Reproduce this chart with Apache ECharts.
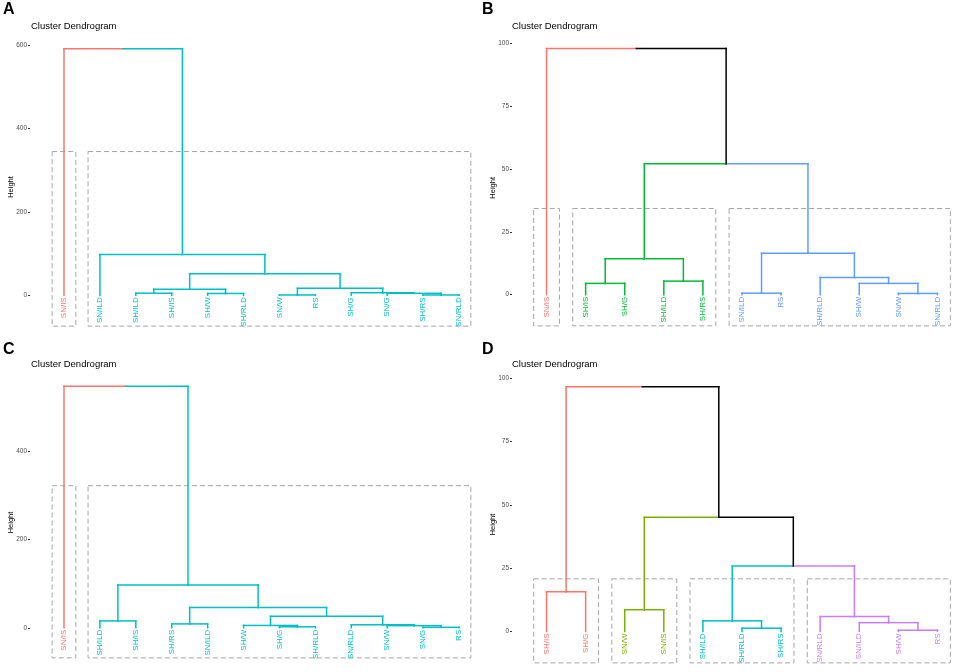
<!DOCTYPE html>
<html>
<head>
<meta charset="utf-8">
<script src="https://cdn.jsdelivr.net/npm/echarts@6/dist/echarts.min.js"></script>
<style>
html,body{margin:0;padding:0;background:#fff;}
#chart{width:957px;height:672px;}
</style>
</head>
<body>
<div id="chart"></div>
<script>
// ---------- DATA ----------
// merge rows: [left, right, height]; negative = leaf (1-based position), positive = earlier merge (1-based)
const labelsA = ['SN/IS','SN/ILD','SH/ILD','SH/IS','SH/W','SH/RLD','SN/W','RS','SH/G','SN/G','SH/RS','SN/RLD'];
const mergeA = [[-3,-4,5],[-5,-6,4.4],[1,2,14.4],[-7,-8,0.8],[-11,-12,0.8],[-10,5,4.8],[-9,6,6.2],[4,7,16.8],[3,8,52],[-2,9,98],[-1,10,592]];
const clusterA = [1,2,2,2,2,2,2,2,2,2,2,2];
const ticksA = [0,200,400,600];
const rectBottomA = -74;

const labelsB = ['SN/IS','SH/IS','SH/G','SH/ILD','SH/RS','SN/ILD','RS','SH/RLD','SH/W','SN/W','SN/RLD'];
const mergeB = [[-2,-3,4.5],[-4,-5,5.4],[1,2,14.3],[-6,-7,0.6],[-10,-11,0.5],[-9,5,4.5],[-8,6,6.8],[4,7,16.5],[3,8,52.1],[-1,9,97.9]];
const clusterB = [1,2,2,2,2,3,3,3,3,3,3];
const ticksB = [0,25,50,75,100];
const rectBottomB = -12.4;

const labelsC = ['SN/IS','SH/ILD','SH/IS','SH/RS','SN/ILD','SH/W','SH/G','SH/RLD','SN/RLD','SN/W','SN/G','RS'];
const mergeC = [[-2,-3,15.5],[-4,-5,8.8],[-7,-8,2.2],[-6,3,5.3],[-11,-12,1],[-10,5,4.8],[-9,6,6.6],[4,7,25.9],[2,8,45.7],[1,9,96.6],[-1,10,546]];
const clusterC = [1,2,2,2,2,2,2,2,2,2,2,2];
const ticksC = [0,200,400];
const rectBottomC = -68;

const labelsD = ['SH/IS','SH/G','SN/W','SN/IS','SH/ILD','SH/RLD','SH/RS','SN/RLD','SN/ILD','SH/W','RS'];
const mergeD = [[-1,-2,15.7],[-3,-4,8.6],[-6,-7,1.3],[-5,3,4.2],[-10,-11,0.5],[-9,5,3.5],[-8,6,5.9],[4,7,25.9],[2,8,45.1],[1,9,96.7]];
const clusterD = [1,1,2,2,3,3,3,4,4,4,4];
const ticksD = [0,25,50,75,100];
const rectBottomD = -12.4;

const panelLetters = ['A','B','C','D'];
const panelTitle = 'Cluster Dendrogram';
const axisName = 'Height';

// ---------- STYLE / LAYOUT ----------
const palettes = {
  2: ['#F8766D','#00BFC4'],
  3: ['#F8766D','#00BA38','#619CFF'],
  4: ['#F8766D','#7CAE00','#00BFC4','#C77CFF']
};
const FONT = '"Liberation Sans", Arial, Helvetica, sans-serif';

const panels = [
  {labels:labelsA, merge:mergeA, cl:clusterA, ticks:ticksA, rb:rectBottomA,
   leaf1:64, sp:35.91, xmin:0.053, xmax:12.5, zero:295.3, ppu:0.41667, ymin:-100, ymax:620, tx:31, ty:26, lx:3, ly:10},
  {labels:labelsB, merge:mergeB, cl:clusterB, ticks:ticksB, rb:rectBottomB,
   leaf1:546.7, sp:39.26, xmin:0.116, xmax:11.5, zero:294.7, ppu:2.514, ymin:-16, ymax:101, tx:512, ty:26, lx:482, ly:10},
  {labels:labelsC, merge:mergeC, cl:clusterC, ticks:ticksC, rb:rectBottomC,
   leaf1:64, sp:35.91, xmin:0.053, xmax:12.5, zero:633.7, ppu:0.4525, ymin:-100, ymax:576, tx:31, ty:364, lx:3, ly:350},
  {labels:labelsD, merge:mergeD, cl:clusterD, ticks:ticksD, rb:rectBottomD,
   leaf1:546.7, sp:39.26, xmin:0.116, xmax:11.5, zero:632.7, ppu:2.544, ymin:-16, ymax:100.5, tx:512, ty:364, lx:482, ly:350}
];

function buildSegments(merge, cl){
  const nodes = [];
  const info = c => c < 0 ? {x:-c, h:0, c:cl[-c-1]} : nodes[c-1];
  const segs = [];
  merge.forEach(([a,b,h]) => {
    const A = info(a), B = info(b);
    const x = (A.x + B.x) / 2;
    const c = (A.c && A.c === B.c) ? A.c : 0;
    [A,B].forEach(ch => {
      segs.push([ch.x, ch.h, ch.x, h, ch.c]);
      segs.push([ch.x, h, x, h, ch.c]);
    });
    nodes.push({x, h, c});
  });
  return segs;
}
function buildRects(merge, cl, rb){
  const k = Math.max(...cl);
  const hs = merge.map(m => m[2]).sort((a,b) => b-a);
  const top = (hs[k-2] + hs[k-1]) / 2;
  const rects = [];
  for (let c = 1; c <= k; c++){
    const idx = cl.map((v,i) => v === c ? i+1 : null).filter(v => v !== null);
    rects.push([Math.min(...idx) - 0.33, rb, Math.max(...idx) + 0.33, top]);
  }
  return rects;
}

const grids = [], xAxes = [], yAxes = [], series = [], graphics = [];
panels.forEach((p, i) => {
  const k = Math.max(...p.cl);
  const pal = palettes[k];
  grids.push({
    left: p.leaf1 + (p.xmin - 1) * p.sp,
    width: (p.xmax - p.xmin) * p.sp,
    top: p.zero - p.ymax * p.ppu,
    height: (p.ymax - p.ymin) * p.ppu
  });
  xAxes.push({gridIndex:i, type:'value', min:p.xmin, max:p.xmax, show:false});
  yAxes.push({
    gridIndex:i, type:'value', min:p.ymin, max:p.ymax,
    axisLine:{show:false}, splitLine:{show:false},
    axisTick:{show:true, length:2, customValues:p.ticks, lineStyle:{color:'#333', width:1}},
    axisLabel:{customValues:p.ticks, fontSize:6.5, color:'#4d4d4d', margin:3, fontFamily:FONT},
    name:axisName, nameLocation:'middle', nameGap:15, nameMoveOverlap:false,
    nameTextStyle:{fontSize:7.5, color:'#000', fontFamily:FONT}
  });
  const segs = buildSegments(p.merge, p.cl);
  series.push({
    type:'custom', xAxisIndex:i, yAxisIndex:i, clip:false, silent:true, z:3,
    data: segs,
    renderItem: (params, api) => {
      const a = api.coord([api.value(0), api.value(1)]);
      const b = api.coord([api.value(2), api.value(3)]);
      const c = api.value(4);
      return {type:'line', shape:{x1:a[0], y1:a[1], x2:b[0], y2:b[1]},
        style:{stroke: c ? pal[c-1] : '#000', lineWidth:1.5, lineCap:'square'}};
    }
  });
  series.push({
    type:'custom', xAxisIndex:i, yAxisIndex:i, clip:false, silent:true, z:1,
    data: buildRects(p.merge, p.cl, p.rb),
    renderItem: (params, api) => {
      const a = api.coord([api.value(0), api.value(3)]);
      const b = api.coord([api.value(2), api.value(1)]);
      return {type:'rect', shape:{x:a[0], y:a[1], width:b[0]-a[0], height:b[1]-a[1]},
        style:{fill:'none', stroke:'#a6a6a6', lineWidth:1, lineDash:[5,3]}};
    }
  });
  series.push({
    type:'custom', xAxisIndex:i, yAxisIndex:i, clip:false, silent:true, z:3,
    data: p.labels.map((l, j) => [j+1, 0]),
    renderItem: (params, api) => {
      const a = api.coord([api.value(0), api.value(1)]);
      const j = params.dataIndex;
      return {type:'text', x:a[0], y:a[1] + 2, rotation:Math.PI/2,
        style:{text:p.labels[j], fill:pal[p.cl[j]-1], fontSize:8, fontFamily:FONT,
               align:'right', verticalAlign:'middle'}};
    }
  });
  graphics.push({type:'text', x:p.tx, y:p.ty, style:{text:panelTitle, fontSize:9.5, fontFamily:FONT, fill:'#000', verticalAlign:'middle'}});
  graphics.push({type:'text', x:p.lx, y:p.ly, style:{text:panelLetters[i], fontSize:16, fontWeight:'bold', fontFamily:FONT, fill:'#000', verticalAlign:'middle'}});
});

const chart = echarts.init(document.getElementById('chart'));
chart.setOption({
  animation:false,
  backgroundColor:'#fff',
  grid:grids, xAxis:xAxes, yAxis:yAxes, series:series, graphic:graphics
});
</script>
</body>
</html>
